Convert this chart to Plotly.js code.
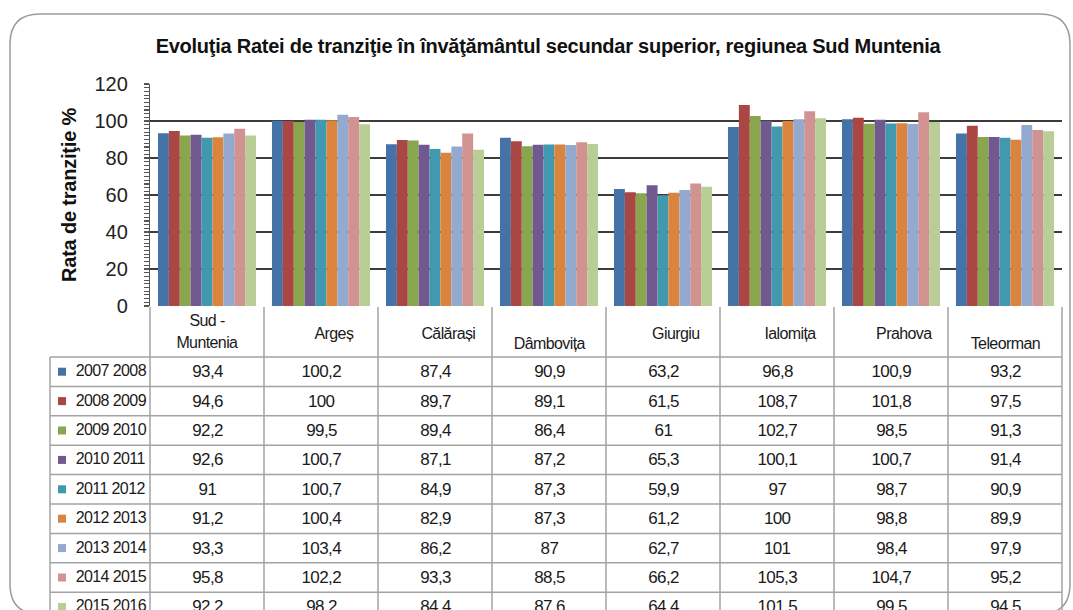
<!DOCTYPE html>
<html><head><meta charset="utf-8">
<script src="https://cdn.plot.ly/plotly-3.0.1.min.js"></script>
<style>
html,body{margin:0;padding:0;background:#fff;}
#chart{width:1073px;height:610px;}
#chart .annotation-text{letter-spacing:-0.6px;}
#chart .gtitle{letter-spacing:-0.25px;}
#chart .ytitle{letter-spacing:-0.2px;}
</style>
</head><body><div id="chart"></div>
<script>
// ---------- DATA ----------
const categories = ["Sud - Muntenia", "Argeș", "Călărași", "Dâmbovița", "Giurgiu", "Ialomița", "Prahova", "Teleorman"];
const headerLabels = ["Sud -<br>Muntenia", "Argeș", "Călărași", "Dâmbovița", "Giurgiu", "Ialomița", "Prahova", "Teleorman"];
const years = ["2007 2008", "2008 2009", "2009 2010", "2010 2011", "2011 2012", "2012 2013", "2013 2014", "2014 2015", "2015 2016"];
const v2007_2008 = [93.4, 100.2, 87.4, 90.9, 63.2, 96.8, 100.9, 93.2];
const v2008_2009 = [94.6, 100, 89.7, 89.1, 61.5, 108.7, 101.8, 97.5];
const v2009_2010 = [92.2, 99.5, 89.4, 86.4, 61, 102.7, 98.5, 91.3];
const v2010_2011 = [92.6, 100.7, 87.1, 87.2, 65.3, 100.1, 100.7, 91.4];
const v2011_2012 = [91, 100.7, 84.9, 87.3, 59.9, 97, 98.7, 90.9];
const v2012_2013 = [91.2, 100.4, 82.9, 87.3, 61.2, 100, 98.8, 89.9];
const v2013_2014 = [93.3, 103.4, 86.2, 87, 62.7, 101, 98.4, 97.9];
const v2014_2015 = [95.8, 102.2, 93.3, 88.5, 66.2, 105.3, 104.7, 95.2];
const v2015_2016 = [92.2, 98.2, 84.4, 87.6, 64.4, 101.5, 99.5, 94.5];
const seriesValues = [v2007_2008, v2008_2009, v2009_2010, v2010_2011, v2011_2012, v2012_2013, v2013_2014, v2014_2015, v2015_2016];

// ---------- STYLE ----------
const colors = ["#4572A7", "#AA4643", "#89A54E", "#71588F", "#4198AF", "#DB843D", "#93A9CF", "#D19392", "#B9CD96"];
const SANS = '"Liberation Sans", Arial, sans-serif';
const W = 1073, H = 610;
const L = 150, R = 1062, T = 84, B = 306;
const px = x => (x - L) / (R - L);
const py = y => (B - y) / (B - T);
const headerY = [[320, 342], 333, 333, 343, 333, 333, 333, 343];
const headerShift = [0, 13, 13, 0, 13, 13, 13, 0];
const rowTop = 357, rowH = 29.4, colW = (R - L) / categories.length;
const lineColor = "#a3a3a3";
const tableFont = { family: SANS, size: 17, color: "#1a1a1a" };
const legendFont = { family: SANS, size: 16, color: "#1a1a1a" };

const traces = seriesValues.map((vals, i) => ({
  type: "bar", name: years[i], x: categories, y: vals,
  marker: { color: colors[i], line: { width: 0 } }, hoverinfo: "x+y+name"
}));

const shapes = [];
const annotations = [];
// frame
const fx0 = px(10), fx1 = px(1070), fy0 = py(14), fy1 = py(614);
const rx = 30 / (R - L), ry = 30 / (B - T);
shapes.push({
  type: "path", xref: "paper", yref: "paper", layer: "below",
  path: `M ${fx0 + rx},${fy0} L ${fx1 - rx},${fy0} Q ${fx1},${fy0} ${fx1},${fy0 - ry} L ${fx1},${fy1 + ry} Q ${fx1},${fy1} ${fx1 - rx},${fy1} L ${fx0 + rx},${fy1} Q ${fx0},${fy1} ${fx0},${fy1 + ry} L ${fx0},${fy0 - ry} Q ${fx0},${fy0} ${fx0 + rx},${fy0} Z`,
  line: { color: "#9c9c9c", width: 1.5 }
});
// table horizontal lines
for (let r = 0; r <= years.length; r++) {
  const y = rowTop + r * rowH;
  shapes.push({ type: "line", xref: "paper", yref: "paper", x0: px(50), x1: px(R), y0: py(y), y1: py(y), line: { color: lineColor, width: 1.5 } });
}
// vertical lines
shapes.push({ type: "line", xref: "paper", yref: "paper", x0: px(50), x1: px(50), y0: py(rowTop), y1: py(H + 40), line: { color: lineColor, width: 1.5 } });
for (let k = 0; k <= categories.length; k++) {
  const x = L + k * colW;
  shapes.push({ type: "line", xref: "paper", yref: "paper", x0: px(x), x1: px(x), y0: py(B + 1), y1: py(H + 40), line: { color: lineColor, width: 1.5 } });
}
// header labels
categories.forEach((c, k) => {
  const cx = L + (k + 0.5) * colW;
  const hy = headerY[k];
  const lines = headerLabels[k].split("<br>");
  if (Array.isArray(hy)) {
    lines.forEach((t, j) => annotations.push({ xref: "paper", yref: "paper", x: px(cx), y: py(hy[j]), text: t, showarrow: false, xanchor: "center", yanchor: "middle", xshift: headerShift[k], font: { family: SANS, size: 16, color: "#1a1a1a" } }));
  } else {
    annotations.push({ xref: "paper", yref: "paper", x: px(cx), y: py(hy), text: headerLabels[k], showarrow: false, xanchor: "center", yanchor: "middle", xshift: headerShift[k], font: { family: SANS, size: 16, color: "#1a1a1a" } });
  }
});
// rows
years.forEach((yr, r) => {
  const cy = rowTop + (r + 0.5) * rowH;
  shapes.push({ type: "rect", xref: "paper", yref: "paper", x0: px(58), x1: px(66), y0: py(cy - 4), y1: py(cy + 4), fillcolor: colors[r], line: { width: 0 } });
  annotations.push({ xref: "paper", yref: "paper", x: px(71), y: py(cy - 1), text: yr, showarrow: false, xanchor: "left", yanchor: "middle", font: legendFont });
  seriesValues[r].forEach((v, k) => {
    const cx = L + (k + 0.5) * colW;
    annotations.push({ xref: "paper", yref: "paper", x: px(cx), y: py(cy), text: String(v).replace(".", ","), showarrow: false, xanchor: "center", yanchor: "middle", font: tableFont });
  });
});

const layout = {
  width: W, height: H,
  margin: { l: L, r: W - R, t: T, b: H - B, pad: 0 },
  paper_bgcolor: "#ffffff", plot_bgcolor: "rgba(0,0,0,0)",
  showlegend: false,
  barmode: "group", bargap: 0.14, bargroupgap: 0,
  title: {
    text: "<b>Evoluţia Ratei de tranziţie în învăţământul secundar superior, regiunea Sud Muntenia</b>",
    xref: "container", yref: "container", x: 548 / W, y: 1 - 46 / H, xanchor: "center", yanchor: "middle",
    font: { family: SANS, size: 20, color: "#111" }
  },
  xaxis: { type: "category", showticklabels: false, ticks: "", showline: false, showgrid: false, zeroline: false, fixedrange: true },
  yaxis: {
    range: [0, 120], tick0: 0, dtick: 20, showgrid: true, gridcolor: "#3c3c3c", gridwidth: 1.6,
    zeroline: true, zerolinecolor: "#ffffff", zerolinewidth: 1,
    showline: true, linecolor: "#555", linewidth: 1.2,
    ticks: "outside", ticklen: 5, tickcolor: "#555", tickwidth: 1.2, ticklabelstandoff: 12,
    minor: { dtick: 2, ticks: "outside", ticklen: 5, tickcolor: "#555", tickwidth: 1.2, showgrid: false },
    tickfont: { family: SANS, size: 20, color: "#222" },
    title: { text: "<b>Rata de tranziţie %</b>", standoff: 12, font: { family: SANS, size: 20, color: "#111" } },
    fixedrange: true
  },
  yaxis2: {
    overlaying: "y", anchor: "x", side: "left", range: [0, 120], tick0: 0, dtick: 20,
    showgrid: false, zeroline: false, showline: false, showticklabels: false,
    ticks: "inside", ticklen: 5, tickcolor: "#555", tickwidth: 1.2,
    minor: { dtick: 2, ticks: "inside", ticklen: 5, tickcolor: "#555", tickwidth: 1.2, showgrid: false },
    fixedrange: true
  },
  shapes: shapes,
  annotations: annotations
};

Plotly.newPlot("chart", traces, layout, { displayModeBar: false, staticPlot: true });
</script>
</body></html>
